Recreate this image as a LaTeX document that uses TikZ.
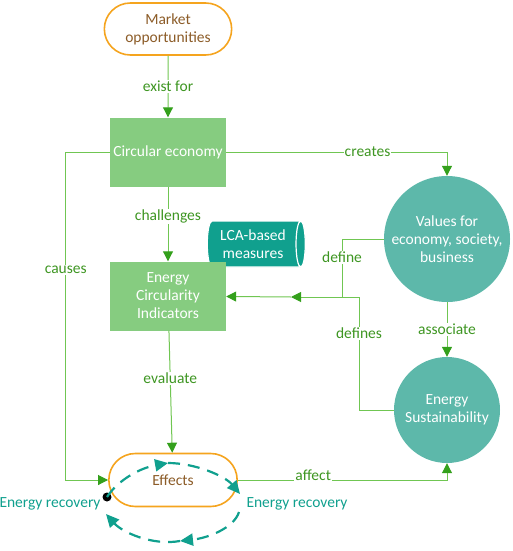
\documentclass[tikz,border=0pt]{standalone}
\usepackage{fontspec}
\setmainfont{Carlito}
\usetikzlibrary{arrows.meta,shapes.geometric,shapes.misc}
\definecolor{linegreen}{RGB}{112,198,82}
\definecolor{tipgreen}{RGB}{52,160,28}
\definecolor{labelgreen}{RGB}{62,150,34}
\definecolor{boxgreen}{RGB}{134,204,128}
\definecolor{tealfill}{RGB}{93,184,170}
\definecolor{tealdark}{RGB}{16,160,142}
\definecolor{orangeline}{RGB}{245,164,30}
\definecolor{browntext}{RGB}{140,92,40}
\begin{document}
\begin{tikzpicture}[x=1pt,y=-1pt,
  every node/.style={font=\fontsize{15.5}{18}\selectfont},
  pill/.style={rounded rectangle,draw=orangeline,line width=1.6pt,fill=white,text=browntext,align=center,minimum width=134pt,minimum height=52pt},
  box/.style={rectangle,fill=boxgreen,text=white,align=center,minimum width=116pt,minimum height=69pt},
  disc/.style={circle,fill=tealfill,text=white,align=center,inner sep=0pt},
  conn/.style={draw=linegreen,line width=1pt},
  tip/.style={-{Triangle[length=10pt,width=10pt,color=tipgreen]}},
  lbl/.style={fill=white,text=labelgreen,inner sep=1pt},
  loop/.style={draw=tealdark,line width=2.2pt,dash pattern=on 12pt off 8pt,-{Triangle[length=13pt,width=12pt,fill=tealdark]}}]
  \useasboundingbox (0,0) rectangle (512,551);
  \node[cylinder,shape border rotate=0,aspect=0.3,draw=white,line width=1.2pt,cylinder uses custom fill,cylinder body fill=tealdark,cylinder end fill=tealdark,text=white,align=center,minimum width=46pt,minimum height=98pt,inner sep=1pt] (lca) at (253,244) {LCA-based\\measures};
  \node[pill] (market) at (168,29) {Market\\opportunities};
  \node[box] (ce) at (168,152) {Circular economy};
  \node[box] (eci) at (168,296) {Energy\\Circularity\\Indicators};
  \node[pill,minimum width=135pt,minimum height=53pt] (effects) at (173,480) {Effects};
  \node[disc,minimum size=126pt] (values) at (447,239) {Values for\\economy, society,\\business};
  \node[disc,minimum size=106pt] (sust) at (447,410) {Energy\\Sustainability};
  \coordinate (split) at (359,297);
  \coordinate (join) at (342,297);
  \coordinate (mid) at (291,297);
  \draw[conn,tip] (market) -- node[lbl]{exist for} (ce);
  \draw[conn,tip] (ce) -- node[lbl,pos=0.4]{challenges} (eci);
  \draw[conn,tip] (eci) -- node[lbl,pos=0.39]{evaluate} (effects);
  \draw[conn,tip] (ce) -| node[lbl,pos=0.32]{creates} (values);
  \draw[conn,tip] (ce.west) -- ++(-44,0) |- node[lbl,pos=0.18]{causes} (effects.west);
  \draw[conn,tip] (effects.east) -| node[lbl,pos=0.18,yshift=5pt]{affect} (sust);
  \draw[conn,tip] (values) -- node[lbl]{associate} (sust);
  \draw[conn] (values.west) -| node[lbl,pos=0.66]{define} (join);
  \draw[conn] (sust.west) -| node[lbl,pos=0.84]{defines} (split);
  \draw[conn,tip] (split) -- (mid);
  \draw[conn,tip] (mid) -- (eci);
  \node[circle,fill=black,inner sep=0pt,minimum size=9pt] (dot) at (107,497) {};
  \coordinate (ctop) at (168,463);
  \coordinate (cright) at (240,494);
  \coordinate (cdown) at (239,512);
  \coordinate (cbot) at (180,541);
  \coordinate (cleft) at (106,514);
  \draw[loop] (dot.center) .. controls (118,480) and (140,468) .. (ctop);
  \draw[loop] (ctop) .. controls (195,463) and (225,476) .. (cright);
  \draw[loop] (cdown) .. controls (234,528) and (208,538) .. (cbot);
  \draw[loop] (cbot) .. controls (152,546) and (122,532) .. (cleft);
  \node[text=tealdark] (recl) at (50,504) {Energy recovery};
  \node[text=tealdark] (recr) at (297,504) {Energy recovery};
\end{tikzpicture}
\end{document}
